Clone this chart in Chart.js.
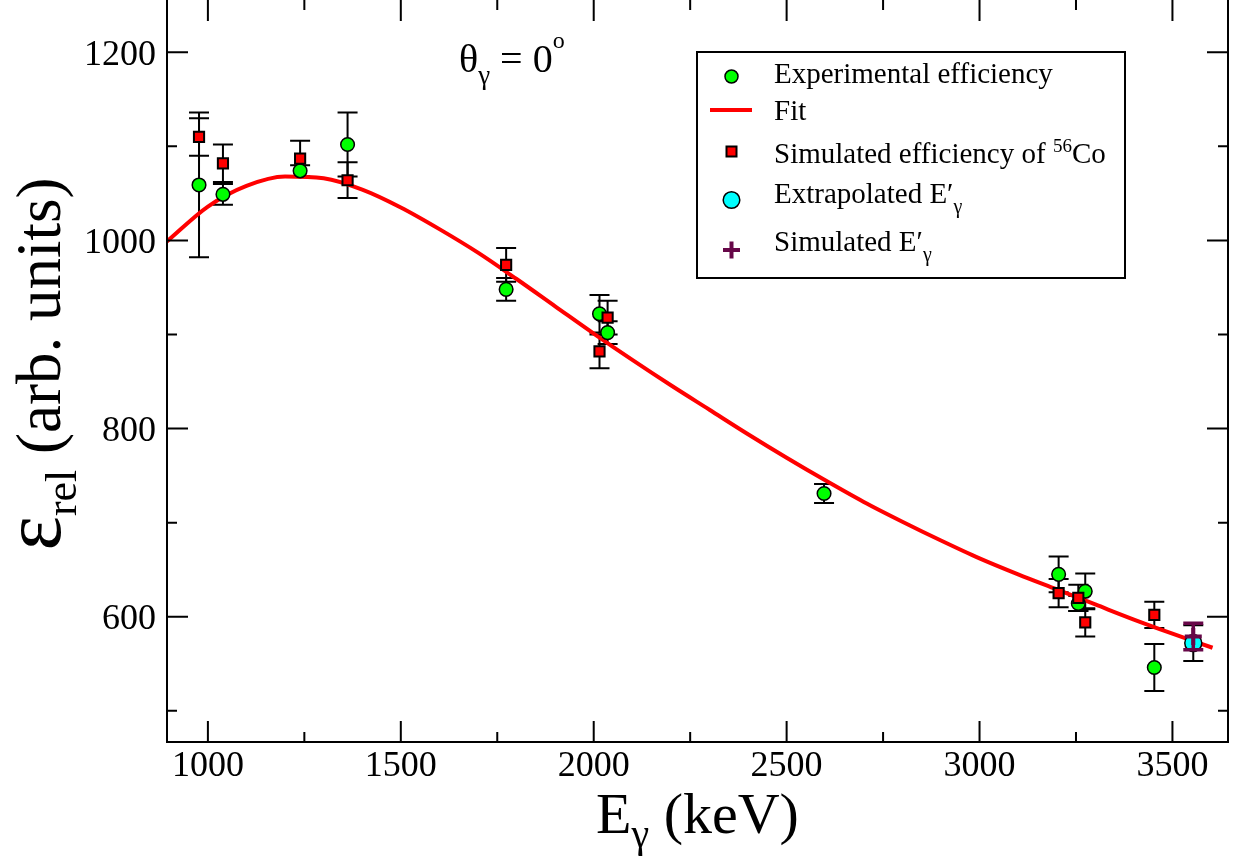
<!DOCTYPE html>
<html>
<head>
<meta charset="utf-8">
<script src="https://cdn.jsdelivr.net/npm/chart.js@4/dist/chart.umd.min.js"></script>
<style>
  html, body { margin: 0; padding: 0; background: #fff; overflow: hidden; }
  #wrap { position: absolute; left: 0; top: 0; width: 1233px; height: 863px; }
</style>
</head>
<body>
<div id="wrap"><canvas id="chart"></canvas></div>
<script>
const SERIF = '"Liberation Serif", "Times New Roman", serif';

// Experimental efficiency (green circles)
const expE   = [977, 1039, 1239, 1362, 1773, 2015, 2036, 2597, 3205, 3256, 3274, 3453];
const expEff = [1059, 1049, 1074, 1102, 948, 922, 902, 731, 645, 614, 627, 546];
const expErr = [77, 11, 6, 34, 12, 20, 12, 10, 19, 8, 19, 25];

// Simulated efficiency of 56Co (red squares)
const simE   = [977, 1039, 1239, 1362, 1773, 2015, 2036, 3205, 3256, 3274, 3453];
const simEff = [1110, 1082, 1087, 1064, 974, 882, 918, 625, 620, 594, 602];
const simErr = [20, 20, 19, 19, 18, 18, 18, 15, 14, 15, 14];

// Extrapolated / simulated E'gamma
const extrapE = [3554], extrapEff = [572], extrapErr = [19];
const simPE = [3554], simPEff = [579], simPErr = [14];

// Fit curve
const fitE   = [894, 1000, 1100, 1200, 1300, 1400, 1500, 1600, 1700, 1800, 1900, 2000, 2100, 2200,
                2300, 2400, 2500, 2600, 2700, 2800, 2900, 3000, 3100, 3200, 3300, 3400, 3500, 3604];
const fitEff = [999, 1036, 1058, 1068, 1066, 1054, 1035, 1012, 987, 959, 930, 901, 873, 846,
                820, 794, 769, 745, 722, 701, 681, 662, 645, 629, 613, 597, 582, 567];

const xMajor = [1000, 1500, 2000, 2500, 3000, 3500];
const xMinor = [1250, 1750, 2250, 2750, 3250];
const yMajor = [600, 800, 1000, 1200];
const yMinor = [500, 700, 900, 1100];

const pts = (xs, ys) => xs.map((x, i) => ({ x: x, y: ys[i] }));

function drawErrors(chart, idx) {
  const ds = chart.data.datasets[idx];
  const meta = chart.getDatasetMeta(idx);
  const ys = chart.scales.y;
  const ctx = chart.ctx;
  const cap = 10;
  ctx.save();
  ctx.strokeStyle = ds.errColor;
  ctx.lineWidth = ds.errWidth;
  meta.data.forEach((p, i) => {
    const v = ds.data[i].y, e = ds.err[i];
    const t = ys.getPixelForValue(v + e), b = ys.getPixelForValue(v - e);
    ctx.beginPath();
    ctx.moveTo(p.x, t); ctx.lineTo(p.x, b);
    ctx.moveTo(p.x - cap, t); ctx.lineTo(p.x + cap, t);
    ctx.moveTo(p.x - cap, b); ctx.lineTo(p.x + cap, b);
    ctx.stroke();
  });
  ctx.restore();
}

// text made of runs with sub/superscripts
function runs(ctx, x, y, parts, align) {
  let w = 0;
  parts.forEach(p => {
    ctx.font = p.s + 'px ' + SERIF;
    p.w = ctx.measureText(p.t).width;
    w += p.w;
  });
  let cx = align === 'center' ? x - w / 2 : x;
  ctx.textAlign = 'left';
  ctx.textBaseline = 'alphabetic';
  parts.forEach(p => {
    ctx.font = p.s + 'px ' + SERIF;
    ctx.fillText(p.t, cx, y + (p.dy || 0));
    cx += p.w;
  });
}

const decor = {
  id: 'decor',
  beforeDatasetDraw(chart, args) {
    const ds = chart.data.datasets[args.index];
    if (ds.id === 'fit') {
      chart.data.datasets.forEach((d, i) => { if (d.err && !d.errOnTop) drawErrors(chart, i); });
    }
    if (ds.errOnTop) drawErrors(chart, args.index);
  },
  afterDraw(chart) {
    const ctx = chart.ctx;
    const a = chart.chartArea;
    const xs = chart.scales.x, ys = chart.scales.y;
    ctx.save();
    ctx.strokeStyle = '#000';
    ctx.lineWidth = 2;
    ctx.beginPath();
    ctx.moveTo(a.left, a.top - 2); ctx.lineTo(a.left, a.bottom);
    ctx.lineTo(a.right, a.bottom); ctx.lineTo(a.right, a.top - 2);
    ctx.stroke();

    // inward ticks
    ctx.beginPath();
    const tickX = (v, len) => {
      const p = xs.getPixelForValue(v);
      ctx.moveTo(p, a.bottom); ctx.lineTo(p, a.bottom - len);
      ctx.moveTo(p, a.top); ctx.lineTo(p, a.top + len);
    };
    const tickY = (v, len) => {
      const p = ys.getPixelForValue(v);
      ctx.moveTo(a.left, p); ctx.lineTo(a.left + len, p);
      ctx.moveTo(a.right, p); ctx.lineTo(a.right - len, p);
    };
    xMajor.forEach(v => tickX(v, 21));
    xMinor.forEach(v => tickX(v, 10));
    yMajor.forEach(v => tickY(v, 21));
    yMinor.forEach(v => tickY(v, 10));
    ctx.stroke();

    ctx.fillStyle = '#000';
    // axis titles
    runs(ctx, (a.left + a.right) / 2, 833, [
      { t: 'E', s: 58 }, { t: 'γ', s: 40, dy: 14 }, { t: ' (keV)', s: 58 }
    ], 'center');

    ctx.save();
    ctx.translate(60, 364);
    ctx.rotate(-Math.PI / 2);
    runs(ctx, 0, 0, [
      { t: 'ε', s: 82 }, { t: 'rel', s: 44, dy: 16 }, { t: ' (arb. units)', s: 63 }
    ], 'center');
    ctx.restore();

    // annotation
    runs(ctx, 459, 72, [
      { t: 'θ', s: 40 }, { t: 'γ', s: 27, dy: 12 }, { t: ' = 0', s: 40 }, { t: 'o', s: 24, dy: -24 }
    ], 'left');

    // legend
    ctx.fillStyle = '#fff';
    ctx.fillRect(697, 52, 428, 226);
    ctx.strokeStyle = '#000';
    ctx.lineWidth = 2;
    ctx.strokeRect(697, 52, 428, 226);

    const sx = 731.5;
    ctx.lineWidth = 1.5;
    ctx.beginPath(); ctx.arc(sx, 76.5, 6.5, 0, Math.PI * 2);
    ctx.fillStyle = '#00ff00'; ctx.fill(); ctx.stroke();

    ctx.strokeStyle = '#ff0000'; ctx.lineWidth = 4;
    ctx.beginPath(); ctx.moveTo(710, 110); ctx.lineTo(752, 110); ctx.stroke();

    ctx.strokeStyle = '#000'; ctx.lineWidth = 2;
    ctx.fillStyle = '#ff0000';
    ctx.fillRect(sx - 5, 151.5 - 5, 10, 10); ctx.strokeRect(sx - 5, 151.5 - 5, 10, 10);

    ctx.lineWidth = 1.5;
    ctx.beginPath(); ctx.arc(sx, 200, 8.3, 0, Math.PI * 2);
    ctx.fillStyle = '#00ffff'; ctx.fill(); ctx.stroke();

    ctx.strokeStyle = '#670748'; ctx.lineWidth = 4;
    ctx.beginPath();
    ctx.moveTo(sx - 8.5, 250); ctx.lineTo(sx + 8.5, 250);
    ctx.moveTo(sx, 250 - 8.5); ctx.lineTo(sx, 250 + 8.5);
    ctx.stroke();

    ctx.fillStyle = '#000';
    const lx = 774;
    runs(ctx, lx, 83, [{ t: 'Experimental efficiency', s: 29 }]);
    runs(ctx, lx, 120, [{ t: 'Fit', s: 29 }]);
    runs(ctx, lx, 163, [{ t: 'Simulated efficiency of ', s: 29 }, { t: '56', s: 19, dy: -11 }, { t: 'Co', s: 29 }]);
    runs(ctx, lx, 203, [{ t: 'Extrapolated E′', s: 29 }, { t: 'γ', s: 20, dy: 10 }]);
    runs(ctx, lx, 251, [{ t: 'Simulated E′', s: 29 }, { t: 'γ', s: 20, dy: 10 }]);
    ctx.restore();
  }
};

const chart = new Chart(document.getElementById('chart'), {
  type: 'scatter',
  data: {
    datasets: [
      {
        label: 'Simulated E′γ', data: pts(simPE, simPEff),
        err: simPErr, errColor: '#670748', errWidth: 3.5, errOnTop: true,
        pointStyle: 'cross', pointRadius: 8.5, borderColor: '#670748', borderWidth: 4, order: 1
      },
      {
        label: 'Extrapolated E′γ', data: pts(extrapE, extrapEff),
        err: extrapErr, errColor: '#000', errWidth: 2,
        pointStyle: 'circle', pointRadius: 8.5, backgroundColor: '#00ffff',
        borderColor: '#000', borderWidth: 1.5, order: 2
      },
      {
        label: 'Simulated efficiency of 56Co', data: pts(simE, simEff),
        err: simErr, errColor: '#000', errWidth: 2,
        pointStyle: 'rect', pointRadius: 7.2, backgroundColor: '#ff0000',
        borderColor: '#000', borderWidth: 2, order: 3
      },
      {
        label: 'Experimental efficiency', data: pts(expE, expEff),
        err: expErr, errColor: '#000', errWidth: 2,
        pointStyle: 'circle', pointRadius: 6.8, backgroundColor: '#00ff00',
        borderColor: '#000', borderWidth: 1.5, order: 4
      },
      {
        id: 'fit', label: 'Fit', data: pts(fitE, fitEff),
        showLine: true, cubicInterpolationMode: 'monotone',
        pointRadius: 0, borderColor: '#ff0000', borderWidth: 4, order: 10
      }
    ]
  },
  options: {
    responsive: true,
    maintainAspectRatio: false,
    animation: false,
    events: [],
    layout: { autoPadding: false, padding: { left: 0, right: 5, top: 0, bottom: 0 } },
    plugins: { legend: { display: false }, tooltip: { enabled: false } },
    scales: {
      x: {
        type: 'linear', min: 894, max: 3644,
        afterBuildTicks: s => { s.ticks = xMajor.map(v => ({ value: v })); },
        afterFit: s => { s.height = 121; s.paddingLeft = 0; s.paddingRight = 0; },
        grid: { display: false, drawTicks: false },
        border: { display: false },
        ticks: { color: '#000', padding: 3, maxRotation: 0, autoSkip: false,
                 font: { family: SERIF, size: 36 }, callback: v => String(v) }
      },
      y: {
        type: 'linear', min: 466.8, max: 1255.6,
        afterBuildTicks: s => { s.ticks = yMajor.map(v => ({ value: v })); },
        afterFit: s => { s.width = 167; s.paddingTop = 0; s.paddingBottom = 0; },
        grid: { display: false, drawTicks: false },
        border: { display: false },
        ticks: { color: '#000', padding: 11, labelOffset: 3, font: { family: SERIF, size: 36 },
                 callback: v => String(v) }
      }
    }
  },
  plugins: [decor]
});
</script>
</body>
</html>
